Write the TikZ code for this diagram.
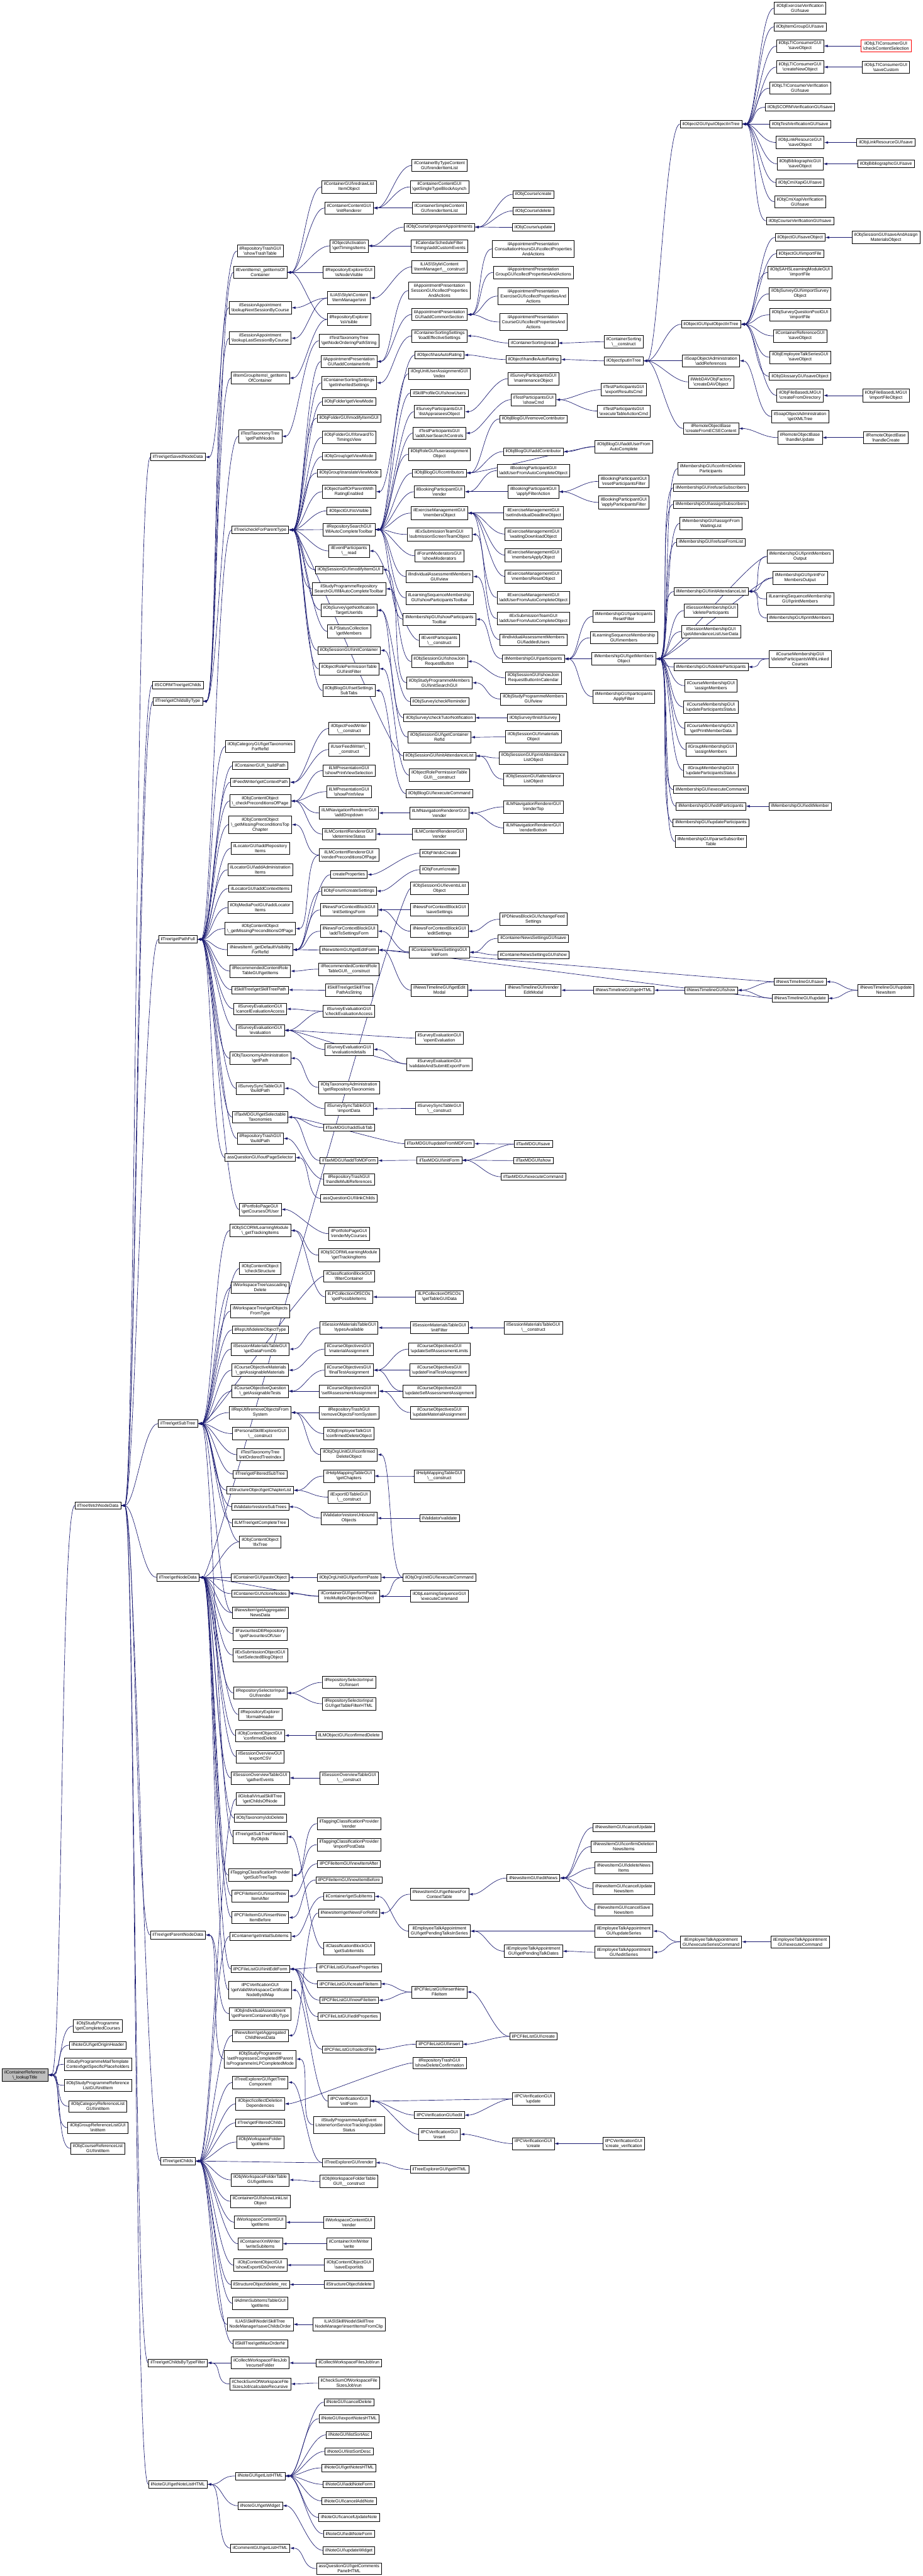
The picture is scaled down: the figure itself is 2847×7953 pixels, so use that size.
\documentclass[tikz,border=0pt]{standalone}
\usepackage{fontspec}
\newfontfamily\hv{Liberation Sans}
\usetikzlibrary{arrows.meta}
\def\bk{\textbackslash}
\definecolor{edgecol}{HTML}{191970}
\pgfdeclarelayer{background}
\pgfsetlayers{background,main}
\tikzset{
 nd/.style={draw=black, fill=white, line width=1.2pt, font=\hv\fontsize{13.5}{15.5}\selectfont, align=center, inner xsep=7pt, inner ysep=5.5pt},
 rootnd/.style={nd, fill=black!25},
 rednd/.style={nd, draw=red},
 e/.style={draw=edgecol, line width=1.3pt, -{Latex[length=12pt,width=8pt]},
   to path={.. controls +(-45,0) and +(45,0) .. (\tikztotarget)}},
}
\newcommand\NN[4]{\node[nd] (#1) at (#2,#3) {#4};}
\newcommand\EM[2]{\foreach \cn in {#2}{\draw[e] (\cn.west) to (#1.east);}}
\begin{document}
\begin{tikzpicture}[x=1pt,y=-1pt]
\useasboundingbox (0,0) rectangle (2847,7953);
% C0
\node[rootnd] (root) at (77,6406) {ilContainerReference\\\bk\_lookupTitle};
% C1
\NN{spgCompleted}{302}{6255}{ilObjStudyProgramme\\\bk getCompletedCourses}
\NN{noteOrigin}{302}{6314}{ilNoteGUI\bk getOriginHeader}
\NN{spgMail}{302}{6373}{ilStudyProgrammeMailTemplate\\Context\bk getSpecificPlaceholders}
\NN{spgRefList}{302}{6438}{ilObjStudyProgrammeReference\\ListGUI\bk initItem}
\NN{catRefList}{302}{6503}{ilObjCategoryReferenceList\\GUI\bk initItem}
\NN{grpRefList}{302}{6569}{ilObjGroupReferenceListGUI\\\bk initItem}
\NN{crsRefList}{302}{6633}{ilObjCourseReferenceList\\GUI\bk initItem}
\NN{fetchNode}{302}{4648}{ilTree\bk fetchNodeData}
% C2
\NN{savedNode}{549}{1411}{ilTree\bk getSavedNodeData}
\NN{scormChilds}{549}{2115}{ilSCORMTree\bk getChilds}
\NN{childsByType}{549}{2165}{ilTree\bk getChildsByType}
\NN{pathFull}{549}{2900}{ilTree\bk getPathFull}
\NN{subTree}{549}{4395}{ilTree\bk getSubTree}
\NN{nodeData}{549}{4870}{ilTree\bk getNodeData}
\NN{parentNode}{549}{5974}{ilTree\bk getParentNodeData}
\NN{childs}{549}{6672}{ilTree\bk getChilds}
\NN{childsFilter}{549}{7295}{ilTree\bk getChildsByTypeFilter}
\NN{noteList}{549}{7670}{ilNoteGUI\bk getNoteListHTML}
% C3
\NN{showTrash}{803}{775}{ilRepositoryTrashGUI\\\bk showTrashTable}
\NN{eventItems}{803}{841}{ilEventItems\bk\_getItemsOf\\Container}
\NN{sessNext}{803}{950}{ilSessionAppointment\\\bk lookupNextSessionByCourse}
\NN{sessLast}{803}{1044}{ilSessionAppointment\\\bk lookupLastSessionByCourse}
\NN{itemGroupItems}{803}{1167}{ilItemGroupItems\bk\_getItems\\OfContainer}
\NN{pathNodes}{803}{1347}{ilTestTaxonomyTree\\\bk getPathNodes}
\NN{checkParent}{803}{1636}{ilTree\bk checkForParentType}
\NN{catTax}{803}{2305}{ilObjCategoryGUI\bk getTaxonomies\\ForRefId}
\NN{buildPathC}{803}{2364}{ilContainerGUI\bk\_buildPath}
\NN{feedContext}{803}{2415}{ilFeedWriter\bk getContextPath}
\NN{checkPrecond}{803}{2473}{ilObjContentObject\\\bk\_checkPreconditionsOfPage}
\NN{missingTop}{803}{2546}{ilObjContentObject\\\bk\_getMissingPreconditionsTop\\Chapter}
\NN{locRepo}{803}{2619}{ilLocatorGUI\bk addRepository\\Items}
\NN{locAdmin}{803}{2685}{ilLocatorGUI\bk addAdministration\\Items}
\NN{locContext}{803}{2743}{ilLocatorGUI\bk addContextItems}
\NN{mepLocator}{803}{2802}{ilObjMediaPoolGUI\bk addLocator\\Items}
\NN{missingPage}{803}{2867}{ilObjContentObject\\\bk\_getMissingPreconditionsOfPage}
\NN{newsDefault}{803}{2932}{ilNewsItem\bk\_getDefaultVisibility\\ForRefId}
\NN{recRoleItems}{803}{2998}{ilRecommendedContentRole\\TableGUI\bk getItems}
\NN{skillTreePath}{803}{3056}{ilSkillTree\bk getSkillTreePath}
\NN{surveyCancel}{803}{3115}{ilSurveyEvaluationGUI\\\bk cancelEvaluationAccess}
\NN{surveyEval}{803}{3181}{ilSurveyEvaluationGUI\\\bk evaluation}
\NN{taxAdminPath}{803}{3267}{ilObjTaxonomyAdministration\\\bk getPath}
\NN{syncBuildPath}{803}{3360}{ilSurveySyncTableGUI\\\bk buildPath}
\NN{taxSelectable}{803}{3449}{ilTaxMDGUI\bk getSelectable\\Taxonomies}
\NN{trashBuildPath}{803}{3515}{ilRepositoryTrashGUI\\\bk buildPath}
\NN{outPageSel}{803}{3574}{assQuestionGUI\bk outPageSelector}
\NN{portfolioCourses}{803}{3734}{ilPortfolioPageGUI\\\bk getCoursesOfUser}
\NN{scormTracking}{803}{3799}{ilObjSCORMLearningModule\\\bk\_getTrackingItems}
\NN{checkStructure}{803}{3916}{ilObjContentObject\\\bk checkStructure}
\NN{wsCascade}{803}{3975}{ilWorkspaceTree\bk cascading\\Delete}
\NN{wsObjects}{803}{4048}{ilWorkspaceTree\bk getObjects\\FromType}
\NN{repUtilDelType}{803}{4106}{ilRepUtil\bk deleteObjectType}
\NN{sessMatDb}{803}{4165}{ilSessionMaterialsTableGUI\\\bk getDataFromDb}
\NN{crsObjMat}{803}{4230}{ilCourseObjectiveMaterials\\\bk\_getAssignableMaterials}
\NN{crsObjQst}{803}{4295}{ilCourseObjectiveQuestion\\\bk\_getAssignableTests}
\NN{repUtilRemove}{803}{4361}{ilRepUtil\bk removeObjectsFrom\\System}
\NN{persSkillExp}{803}{4426}{ilPersonalSkillExplorerGUI\\\bk\_\_construct}
\NN{testTaxIdx}{803}{4491}{ilTestTaxonomyTree\\\bk initOrderedTreeIndex}
\NN{filteredSub}{803}{4551}{ilTree\bk getFilteredSubTree}
\NN{chapterList}{803}{4601}{ilStructureObject\bk getChapterList}
\NN{restoreSub}{803}{4652}{ilValidator\bk restoreSubTrees}
\NN{lmComplete}{803}{4702}{ilLMTree\bk getCompleteTree}
\NN{fixTree}{803}{4760}{ilObjContentObject\\\bk fixTree}
\NN{pasteObj}{803}{4870}{ilContainerGUI\bk pasteObject}
\NN{cloneNodes}{803}{4920}{ilContainerGUI\bk cloneNodes}
\NN{aggNews}{803}{4979}{ilNewsItem\bk getAggregated\\NewsData}
\NN{favourites}{803}{5044}{ilFavouritesDBRepository\\\bk getFavouritesOfUser}
\NN{exSubBlog}{803}{5110}{ilExSubmissionObjectGUI\\\bk setSelectedBlogObject}
\NN{repoSelRender}{803}{5227}{ilRepositorySelectorInput\\GUI\bk render}
\NN{repoExpHeader}{803}{5293}{ilRepositoryExplorer\\\bk formatHeader}
\NN{coGUIConfDel}{803}{5358}{ilObjContentObjectGUI\\\bk confirmedDelete}
\NN{sessOverCSV}{803}{5423}{ilSessionOverviewGUI\\\bk exportCSV}
\NN{sessOverGather}{803}{5489}{ilSessionOverviewTableGUI\\\bk gatherEvents}
\NN{gvsChilds}{803}{5554}{ilGlobalVirtualSkillTree\\\bk getChildsOfNode}
\NN{taxDoDelete}{803}{5613}{ilObjTaxonomy\bk doDelete}
\NN{subTreeFiltered}{803}{5671}{ilTree\bk getSubTreeFiltered\\ByObjIds}
\NN{tagSubTree}{803}{5789}{ilTaggingClassificationProvider\\\bk getSubTreeTags}
\NN{pcInsAfter}{803}{5854}{ilPCFileItemGUI\bk insertNew\\ItemAfter}
\NN{pcInsBefore}{803}{5920}{ilPCFileItemGUI\bk insertNew\\ItemBefore}
\NN{initialSubitems}{803}{5978}{ilContainer\bk getInitialSubitems}
\NN{pcInitEdit}{803}{6079}{ilPCFileListGUI\bk initEditForm}
\NN{pcVerValid}{803}{6144}{ilPCVerificationGUI\\\bk getValidWorkspaceCertificate\\NodeByIdMap}
\NN{iaParent}{803}{6217}{ilObjIndividualAssessment\\\bk getParentContainerIdByType}
\NN{aggChild}{803}{6284}{ilNewsItem\bk getAggregated\\ChildNewsData}
\NN{spgSetProgress}{803}{6357}{ilObjStudyProgramme\\\bk setProgressesCompletedIfParent\\IsProgrammeInLPCompletedMode}
\NN{treeComp}{803}{6429}{ilTreeExplorerGUI\bk getTree\\Component}
\NN{collectDel}{803}{6495}{ilObject\bk collectDeletion\\Dependencies}
\NN{filteredChilds}{803}{6554}{ilTree\bk getFilteredChilds}
\NN{wsGotItems}{803}{6613}{ilObjWorkspaceFolder\\\bk gotItems}
\NN{wsFolderItems}{803}{6730}{ilObjWorkspaceFolderTable\\GUI\bk getItems}
\NN{showLinkList}{803}{6796}{ilContainerGUI\bk showLinkList\\Object}
\NN{wsContentItems}{803}{6861}{ilWorkspaceContentGUI\\\bk getItems}
\NN{xmlSubitems}{803}{6927}{ilContainerXmlWriter\\\bk writeSubitems}
\NN{coShowExport}{803}{6993}{ilObjContentObjectGUI\\\bk showExportIDsOverview}
\NN{structDelRec}{803}{7053}{ilStructureObject\bk delete\_rec}
\NN{adminSubItems}{803}{7111}{ilAdminSubItemsTableGUI\\\bk getItems}
\NN{skillSaveOrder}{803}{7176}{ILIAS\bk Skill\bk Node\bk SkillTree\\NodeManager\bk saveChildsOrder}
\NN{skillMaxOrder}{803}{7236}{ilSkillTree\bk getMaxOrderNr}
\NN{collectRecurse}{803}{7295}{ilCollectWorkspaceFilesJob\\\bk recurseFolder}
\NN{checksumCalc}{803}{7360}{ilCheckSumOfWorkspaceFile\\SizesJob\bk calculateRecursive}
\NN{noteGetList}{803}{7644}{ilNoteGUI\bk getListHTML}
\NN{noteWidget}{803}{7736}{ilNoteGUI\bk getWidget}
\NN{commentList}{803}{7867}{ilCommentGUI\bk getListHTML}
% C4
\NN{redrawList}{1077}{577}{ilContainerGUI\bk redrawList\\ItemObject}
\NN{initRenderer}{1077}{642}{ilContainerContentGUI\\\bk initRenderer}
\NN{timingsItems}{1077}{759}{ilObjectActivation\\\bk getTimingsItems}
\NN{repExpNodeVis}{1077}{841}{ilRepositoryExplorerGUI\\\bk isNodeVisible}
\NN{itemMgrInit}{1077}{920}{ILIAS\bk Style\bk Content\\\bk ItemManager\bk init}
\NN{repExpVisible}{1077}{986}{ilRepositoryExplorer\\\bk isVisible}
\NN{nodeOrdering}{1077}{1052}{ilTestTaxonomyTree\\\bk getNodeOrderingPathString}
\NN{addContainerInfo}{1077}{1116}{ilAppointmentPresentation\\GUI\bk addContainerInfo}
\NN{inheritedSettings}{1077}{1182}{ilContainerSortingSettings\\\bk getInheritedSettings}
\NN{folderViewMode}{1077}{1240}{ilObjFolder\bk getViewMode}
\NN{folderModify}{1077}{1291}{ilObjFolderGUI\bk modifyItemGUI}
\NN{forwardTimings}{1077}{1350}{ilObjFolderGUI\bk forwardTo\\TimingsView}
\NN{grpViewMode}{1077}{1409}{ilObjGroup\bk getViewMode}
\NN{grpTranslate}{1077}{1460}{ilObjGroup\bk translateViewMode}
\NN{selfOrParent}{1077}{1518}{ilObject\bk selfOrParentWith\\RatingEnabled}
\NN{objGUIVisible}{1077}{1577}{ilObjectGUI\bk isVisible}
\NN{repoSearchFill}{1077}{1635}{ilRepositorySearchGUI\\\bk fillAutoCompleteToolbar}
\NN{evPartRead}{1077}{1701}{ilEventParticipants\\\bk\_\_read}
\NN{sessModify}{1077}{1759}{ilObjSessionGUI\bk modifyItemGUI}
\NN{spgRepoSearch}{1077}{1818}{ilStudyProgrammeRepository\\SearchGUI\bk fillAutoCompleteToolbar}
\NN{surveyNotif}{1077}{1884}{ilObjSurvey\bk getNotification\\TargetUserIds}
\NN{lpMembers}{1077}{1949}{ilLPStatusCollection\\\bk getMembers}
\NN{sessInitCont}{1077}{2008}{ilObjSessionGUI\bk initContainer}
\NN{rolePermFilter}{1077}{2065}{ilObjectRolePermissionTable\\GUI\bk initFilter}
\NN{blogSubTabs}{1077}{2132}{ilObjBlogGUI\bk setSettings\\SubTabs}
\NN{feedWriterCons}{1077}{2249}{ilObjectFeedWriter\\\bk\_\_construct}
\NN{userFeedWriter}{1077}{2314}{ilUserFeedWriter\bk\_\\\_construct}
\NN{lmPrintSel}{1077}{2379}{ilLMPresentationGUI\\\bk showPrintViewSelection}
\NN{lmPrintView}{1077}{2444}{ilLMPresentationGUI\\\bk showPrintView}
\NN{lmNavDropdown}{1077}{2510}{ilLMNavigationRendererGUI\\\bk addDropdown}
\NN{lmDetermine}{1077}{2575}{ilLMContentRendererGUI\\\bk determineStatus}
\NN{lmRenderPrecond}{1077}{2640}{ilLMContentRendererGUI\\\bk renderPreconditionsOfPage}
\NN{createProps}{1077}{2700}{createProperties}
\NN{createSettings}{1077}{2751}{ilObjForum\bk createSettings}
\NN{newsInitSettings}{1077}{2809}{ilNewsForContextBlockGUI\\\bk initSettingsForm}
\NN{newsAddSettings}{1077}{2875}{ilNewsForContextBlockGUI\\\bk addToSettingsForm}
\NN{newsEditForm}{1077}{2933}{ilNewsItemGUI\bk getEditForm}
\NN{recRoleCons}{1077}{2992}{ilRecommendedContentRole\\TableGUI\bk\_\_construct}
\NN{skillPathStr}{1077}{3057}{ilSkillTree\bk getSkillTree\\PathAsString}
\NN{surveyCheck}{1077}{3122}{ilSurveyEvaluationGUI\\\bk checkEvaluationAccess}
\NN{surveyDetails}{1077}{3240}{ilSurveyEvaluationGUI\\\bk evaluationdetails}
\NN{taxAdminRepo}{1077}{3357}{ilObjTaxonomyAdministration\\\bk getRepositoryTaxonomies}
\NN{syncImport}{1077}{3423}{ilSurveySyncTableGUI\\\bk importData}
\NN{taxAddSubTab}{1077}{3481}{ilTaxMDGUI\bk addSubTab}
\NN{taxAddToMD}{1077}{3583}{ilTaxMDGUI\bk addToMDForm}
\NN{trashMulti}{1077}{3641}{ilRepositoryTrashGUI\\\bk handleMultiReferences}
\NN{linkChilds}{1077}{3700}{assQuestionGUI\bk linkChilds}
\NN{portfolioRender}{1077}{3809}{ilPortfolioPageGUI\\\bk renderMyCourses}
\NN{scormGetTracking}{1077}{3875}{ilObjSCORMLearningModule\\\bk getTrackingItems}
\NN{classFilter}{1077}{3940}{ilClassificationBlockGUI\\\bk filterContainer}
\NN{lpCollPossible}{1077}{4004}{ilLPCollectionOfSCOs\\\bk getPossibleItems}
\NN{sessMatTypes}{1077}{4099}{ilSessionMaterialsTableGUI\\\bk typesAvailable}
\NN{crsObjMatAssign}{1077}{4165}{ilCourseObjectivesGUI\\\bk materialAssignment}
\NN{crsObjFinal}{1077}{4230}{ilCourseObjectivesGUI\\\bk finalTestAssignment}
\NN{crsObjSelf}{1077}{4295}{ilCourseObjectivesGUI\\\bk selfAssessmentAssignment}
\NN{trashRemove}{1077}{4361}{ilRepositoryTrashGUI\\\bk removeObjectsFromSystem}
\NN{empTalkDel}{1077}{4426}{ilObjEmployeeTalkGUI\\\bk confirmedDeleteObject}
\NN{orgUnitConfDel}{1077}{4491}{ilObjOrgUnitGUI\bk confirmed\\DeleteObject}
\NN{helpChapters}{1077}{4557}{ilHelpMappingTableGUI\\\bk getChapters}
\NN{exportIDTable}{1077}{4622}{ilExportIDTableGUI\\\bk\_\_construct}
\NN{restoreUnbound}{1077}{4687}{ilValidator\bk restoreUnbound\\Objects}
\NN{orgUnitPaste}{1077}{4870}{ilObjOrgUnitGUI\bk performPaste}
\NN{performPaste}{1077}{4928}{ilContainerGUI\bk performPaste\\IntoMultipleObjectsObject}
\NN{repoSelInsert}{1077}{5194}{ilRepositorySelectorInput\\GUI\bk insert}
\NN{repoSelFilter}{1077}{5260}{ilRepositorySelectorInput\\GUI\bk getTableFilterHTML}
\NN{lmObjConfDel}{1077}{5358}{ilLMObjectGUI\bk confirmedDelete}
\NN{sessOverCons}{1077}{5489}{ilSessionOverviewTableGUI\\\bk\_\_construct}
\NN{tagRender}{1077}{5630}{ilTaggingClassificationProvider\\\bk render}
\NN{tagImport}{1077}{5695}{ilTaggingClassificationProvider\\\bk importPostData}
\NN{pcNewAfter}{1077}{5754}{ilPCFileItemGUI\bk newItemAfter}
\NN{pcNewBefore}{1077}{5804}{ilPCFileItemGUI\bk newItemBefore}
\NN{contSubItems}{1077}{5855}{ilContainer\bk getSubItems}
\NN{newsForRef}{1077}{5906}{ilNewsItem\bk getNewsForRefId}
\NN{classSubItems}{1077}{6016}{ilClassificationBlockGUI\\\bk getSubItemIds}
\NN{pcSaveProps}{1077}{6075}{ilPCFileListGUI\bk saveProperties}
\NN{pcCreateFile}{1077}{6125}{ilPCFileListGUI\bk createFileItem}
\NN{pcNewFile}{1077}{6175}{ilPCFileListGUI\bk newFileItem}
\NN{pcEditProps}{1077}{6226}{ilPCFileListGUI\bk editProperties}
\NN{pcSelectFile}{1077}{6327}{ilPCFileListGUI\bk selectFile}
\NN{pcVerInit}{1077}{6487}{ilPCVerificationGUI\\\bk initForm}
\NN{spgAppEvent}{1077}{6560}{ilStudyProgrammeAppEvent\\Listener\bk onServiceTrackingUpdate\\Status}
\NN{treeRender}{1077}{6677}{ilTreeExplorerGUI\bk render}
\NN{wsFolderCons}{1077}{6735}{ilObjWorkspaceFolderTable\\GUI\bk\_\_construct}
\NN{wsContentRender}{1077}{6861}{ilWorkspaceContentGUI\\\bk render}
\NN{xmlWrite}{1077}{6927}{ilContainerXmlWriter\\\bk write}
\NN{coSaveExport}{1077}{6993}{ilObjContentObjectGUI\\\bk saveExportIds}
\NN{structDelete}{1077}{7053}{ilStructureObject\bk delete}
\NN{skillInsertClip}{1077}{7176}{ILIAS\bk Skill\bk Node\bk SkillTree\\NodeManager\bk insertItemsFromClip}
\NN{collectRun}{1077}{7295}{ilCollectWorkspaceFilesJob\bk run}
\NN{checksumRun}{1077}{7357}{ilCheckSumOfWorkspaceFile\\SizesJob\bk run}
\NN{noteCancelDel}{1077}{7416}{ilNoteGUI\bk cancelDelete}
\NN{noteExport}{1077}{7467}{ilNoteGUI\bk exportNotesHTML}
\NN{noteSortAsc}{1077}{7517}{ilNoteGUI\bk listSortAsc}
\NN{noteSortDesc}{1077}{7568}{ilNoteGUI\bk listSortDesc}
\NN{noteGetNotes}{1077}{7619}{ilNoteGUI\bk getNotesHTML}
\NN{noteAddForm}{1077}{7670}{ilNoteGUI\bk addNoteForm}
\NN{noteCancelAdd}{1077}{7721}{ilNoteGUI\bk cancelAddNote}
\NN{noteCancelUpd}{1077}{7772}{ilNoteGUI\bk cancelUpdateNote}
\NN{noteEditForm}{1077}{7823}{ilNoteGUI\bk editNoteForm}
\NN{noteUpdWidget}{1077}{7874}{ilNoteGUI\bk updateWidget}
\NN{assQComments}{1077}{7930}{assQuestionGUI\bk getComments\\PanelHTML}
% C5
\NN{byTypeRender}{1356}{511}{ilContainerByTypeContent\\GUI\bk renderItemList}
\NN{singleType}{1356}{577}{ilContainerContentGUI\\\bk getSingleTypeBlockAsynch}
\NN{simpleRender}{1356}{642}{ilContainerSimpleContent\\GUI\bk renderItemList}
\NN{crsPrepare}{1356}{701}{ilObjCourse\bk prepareAppointments}
\NN{calFilter}{1356}{759}{ilCalendarScheduleFilter\\Timings\bk addCustomEvents}
\NN{itemMgrCons}{1356}{824}{ILIAS\bk Style\bk Content\\\bk ItemManager\bk\_\_construct}
\NN{sessCollect}{1356}{897}{ilAppointmentPresentation\\SessionGUI\bk collectProperties\\AndActions}
\NN{addCommon}{1356}{971}{ilAppointmentPresentation\\GUI\bk addCommonSection}
\NN{loadEff}{1356}{1037}{ilContainerSortingSettings\\\bk loadEffectiveSettings}
\NN{hasAutoRating}{1356}{1096}{ilObject\bk hasAutoRating}
\NN{orgUnitIndex}{1356}{1154}{ilOrgUnitUserAssignmentGUI\\\bk index}
\NN{skillProfUsers}{1356}{1213}{ilSkillProfileGUI\bk showUsers}
\NN{surveyAppraisees}{1356}{1271}{ilSurveyParticipantsGUI\\\bk listAppraiseesObject}
\NN{testAddSearch}{1356}{1337}{ilTestParticipantsGUI\\\bk addUserSearchControls}
\NN{roleUserAssign}{1356}{1402}{ilObjRoleGUI\bk userassignment\\Object}
\NN{blogContrib}{1356}{1460}{ilObjBlogGUI\bk contributors}
\NN{bookingRender}{1356}{1518}{ilBookingParticipantGUI\\\bk render}
\NN{exMembers}{1356}{1584}{ilExerciseManagementGUI\\\bk membersObject}
\NN{exSubTeam}{1356}{1650}{ilExSubmissionTeamGUI\\\bk submissionScreenTeamObject}
\NN{forumMods}{1356}{1716}{ilForumModeratorsGUI\\\bk showModerators}
\NN{iaView}{1356}{1780}{ilIndividualAssessmentMembers\\GUI\bk view}
\NN{lsoShowPart}{1356}{1846}{ilLearningSequenceMembership\\GUI\bk showParticipantsToolbar}
\NN{memShowPart}{1356}{1912}{ilMembershipGUI\bk showParticipants\\Toolbar}
\NN{evPartCons}{1356}{1977}{ilEventParticipants\\\bk\_\_construct}
\NN{sessShowJoin}{1356}{2042}{ilObjSessionGUI\bk showJoin\\RequestButton}
\NN{spgMembersInit}{1356}{2108}{ilObjStudyProgrammeMembers\\GUI\bk initSearchGUI}
\NN{surveyReminder}{1356}{2166}{ilObjSurvey\bk checkReminder}
\NN{surveyTutor}{1356}{2216}{ilObjSurvey\bk checkTutorNotification}
\NN{sessGetCont}{1356}{2276}{ilObjSessionGUI\bk getContainer\\RefId}
\NN{sessInitAtt}{1356}{2334}{ilObjSessionGUI\bk initAttendanceList}
\NN{rolePermCons}{1356}{2393}{ilObjectRolePermissionTable\\GUI\bk\_\_construct}
\NN{blogExec}{1356}{2450}{ilObjBlogGUI\bk executeCommand}
\NN{lmNavRender}{1356}{2510}{ilLMNavigationRendererGUI\\\bk render}
\NN{lmContRender}{1356}{2575}{ilLMContentRendererGUI\\\bk render}
\NN{fileDoCreate}{1356}{2634}{ilObjFile\bk doCreate}
\NN{forumCreate}{1356}{2685}{ilObjForum\bk create}
\NN{sessEventsList}{1356}{2743}{ilObjSessionGUI\bk eventsList\\Object}
\NN{newsSaveSettings}{1356}{2809}{ilNewsForContextBlockGUI\\\bk saveSettings}
\NN{newsEditSettings}{1356}{2875}{ilNewsForContextBlockGUI\\\bk editSettings}
\NN{contNewsInit}{1356}{2940}{ilContainerNewsSettingsGUI\\\bk initForm}
\NN{newsTLEditModal}{1356}{3057}{ilNewsTimelineGUI\bk getEdit\\Modal}
\NN{surveyOpen}{1356}{3205}{ilSurveyEvaluationGUI\\\bk openEvaluation}
\NN{surveyValidate}{1356}{3285}{ilSurveyEvaluationGUI\\\bk validateAndSubmitExportForm}
\NN{syncCons}{1356}{3422}{ilSurveySyncTableGUI\\\bk\_\_construct}
\NN{taxUpdFromMD}{1356}{3531}{ilTaxMDGUI\bk updateFromMDForm}
\NN{taxInitForm}{1356}{3582}{ilTaxMDGUI\bk initForm}
\NN{lpCollTable}{1356}{4004}{ilLPCollectionOfSCOs\\\bk getTableGUIData}
\NN{sessMatInit}{1356}{4099}{ilSessionMaterialsTableGUI\\\bk initFilter}
\NN{crsUpdSelfLim}{1356}{4165}{ilCourseObjectivesGUI\\\bk updateSelfAssessmentLimits}
\NN{crsUpdFinal}{1356}{4230}{ilCourseObjectivesGUI\\\bk updateFinalTestAssignment}
\NN{crsUpdSelf}{1356}{4295}{ilCourseObjectivesGUI\\\bk updateSelfAssessmentAssignment}
\NN{crsUpdMat}{1356}{4361}{ilCourseObjectivesGUI\\\bk updateMaterialAssignment}
\NN{helpCons}{1356}{4557}{ilHelpMappingTableGUI\\\bk\_\_construct}
\NN{validate}{1356}{4687}{ilValidator\bk validate}
\NN{orgUnitExec}{1356}{4870}{ilObjOrgUnitGUI\bk executeCommand}
\NN{lsoExec}{1356}{4928}{ilObjLearningSequenceGUI\\\bk executeCommand}
\NN{newsGetTable}{1356}{5848}{ilNewsItemGUI\bk getNewsFor\\ContextTable}
\NN{empPendingSeries}{1356}{5962}{ilEmployeeTalkAppointment\\GUI\bk getPendingTalksInSeries}
\NN{pcInsertNew}{1356}{6150}{ilPCFileListGUI\bk insertNew\\FileItem}
\NN{pcInsert}{1356}{6311}{ilPCFileListGUI\bk insert}
\NN{trashShowDel}{1356}{6369}{ilRepositoryTrashGUI\\\bk showDeleteConfirmation}
\NN{pcVerEdit}{1356}{6530}{ilPCVerificationGUI\bk edit}
\NN{pcVerInsert}{1356}{6589}{ilPCVerificationGUI\\\bk insert}
\NN{treeGetHTML}{1356}{6698}{ilTreeExplorerGUI\bk getHTML}
% C6
\NN{crsCreate}{1646}{600}{ilObjCourse\bk create}
\NN{crsDelete}{1646}{651}{ilObjCourse\bk delete}
\NN{crsUpdate}{1646}{702}{ilObjCourse\bk update}
\NN{consultCollect}{1646}{768}{ilAppointmentPresentation\\ConsultationHoursGUI\bk collectProperties\\AndActions}
\NN{grpCollect}{1646}{841}{ilAppointmentPresentation\\GroupGUI\bk collectPropertiesAndActions}
\NN{exCollect}{1646}{914}{ilAppointmentPresentation\\ExerciseGUI\bk collectPropertiesAnd\\Actions}
\NN{crsCollect}{1646}{994}{ilAppointmentPresentation\\CourseGUI\bk collectPropertiesAnd\\Actions}
\NN{sortRead}{1646}{1059}{ilContainerSorting\bk read}
\NN{handleAutoRating}{1646}{1110}{ilObject\bk handleAutoRating}
\NN{surveyMaint}{1646}{1169}{ilSurveyParticipantsGUI\\\bk maintenanceObject}
\NN{testShowCmd}{1646}{1234}{ilTestParticipantsGUI\\\bk showCmd}
\NN{blogRemove}{1646}{1293}{ilObjBlogGUI\bk removeContributor}
\NN{blogAddContrib}{1646}{1394}{ilObjBlogGUI\bk addContributor}
\NN{bookingAddUser}{1646}{1453}{ilBookingParticipantGUI\\\bk addUserFromAutoCompleteObject}
\NN{bookingApply}{1646}{1518}{ilBookingParticipantGUI\\\bk applyFilterAction}
\NN{exSetDeadline}{1646}{1584}{ilExerciseManagementGUI\\\bk setIndividualDeadlineObject}
\NN{exWaiting}{1646}{1649}{ilExerciseManagementGUI\\\bk waitingDownloadObject}
\NN{exApply}{1646}{1714}{ilExerciseManagementGUI\\\bk membersApplyObject}
\NN{exReset}{1646}{1780}{ilExerciseManagementGUI\\\bk membersResetObject}
\NN{exAddUser}{1646}{1845}{ilExerciseManagementGUI\\\bk addUserFromAutoCompleteObject}
\NN{exSubTeamAdd}{1646}{1910}{ilExSubmissionTeamGUI\\\bk addUserFromAutoCompleteObject}
\NN{iaAdded}{1646}{1975}{ilIndividualAssessmentMembers\\GUI\bk addedUsers}
\NN{memPart}{1646}{2034}{ilMembershipGUI\bk participants}
\NN{sessShowJoinCal}{1646}{2093}{ilObjSessionGUI\bk showJoin\\RequestButtonInCalendar}
\NN{spgMembersView}{1646}{2158}{ilObjStudyProgrammeMembers\\GUI\bk view}
\NN{surveyFinish}{1646}{2216}{ilObjSurvey\bk finishSurvey}
\NN{sessMaterials}{1646}{2275}{ilObjSessionGUI\bk materials\\Object}
\NN{sessPrintAtt}{1646}{2340}{ilObjSessionGUI\bk printAttendance\\ListObject}
\NN{sessAttList}{1646}{2406}{ilObjSessionGUI\bk attendance\\ListObject}
\NN{lmNavTop}{1646}{2491}{ilLMNavigationRendererGUI\\\bk renderTop}
\NN{lmNavBottom}{1646}{2556}{ilLMNavigationRendererGUI\\\bk renderBottom}
\NN{pdChangeFeed}{1646}{2838}{ilPDNewsBlockGUI\bk changeFeed\\Settings}
\NN{contNewsSave}{1646}{2897}{ilContainerNewsSettingsGUI\bk save}
\NN{contNewsShow}{1646}{2948}{ilContainerNewsSettingsGUI\bk show}
\NN{newsTLRenderEdit}{1646}{3057}{ilNewsTimelineGUI\bk render\\EditModal}
\NN{taxSave}{1646}{3532}{ilTaxMDGUI\bk save}
\NN{taxShow}{1646}{3583}{ilTaxMDGUI\bk show}
\NN{taxExec}{1646}{3633}{ilTaxMDGUI\bk executeCommand}
\NN{sessMatCons}{1646}{4099}{ilSessionMaterialsTableGUI\\\bk\_\_construct}
\NN{newsEditNews}{1646}{5798}{ilNewsItemGUI\bk editNews}
\NN{empPendingDates}{1646}{6024}{ilEmployeeTalkAppointment\\GUI\bk getPendingTalkDates}
\NN{pcCreate}{1646}{6287}{ilPCFileListGUI\bk create}
\NN{pcVerUpdate}{1646}{6480}{ilPCVerificationGUI\\\bk update}
\NN{pcVerCreate}{1646}{6618}{ilPCVerificationGUI\\\bk create}
% C7
\NN{sortCons}{1925}{1055}{ilContainerSorting\\\bk\_\_construct}
\NN{putInTree}{1925}{1114}{ilObject\bk putInTree}
\NN{testExport}{1925}{1203}{ilTestParticipantsGUI\\\bk exportResultsCmd}
\NN{testExecTable}{1925}{1269}{ilTestParticipantsGUI\\\bk executeTableActionCmd}
\NN{blogAddUserAuto}{1925}{1379}{ilObjBlogGUI\bk addUserFrom\\AutoComplete}
\NN{bookingReset}{1925}{1486}{ilBookingParticipantGUI\\\bk resetParticipantsFilter}
\NN{bookingApplyPart}{1925}{1551}{ilBookingParticipantGUI\\\bk applyParticipantsFilter}
\NN{memPartReset}{1925}{1903}{ilMembershipGUI\bk participants\\ResetFilter}
\NN{lsoMembers}{1925}{1969}{ilLearningSequenceMembership\\GUI\bk members}
\NN{memGetMembers}{1925}{2034}{ilMembershipGUI\bk getMembers\\Object}
\NN{memPartApply}{1925}{2151}{ilMembershipGUI\bk participants\\ApplyFilter}
\NN{newsTLGetHTML}{1925}{3057}{ilNewsTimelineGUI\bk getHTML}
\NN{newsCancelUpd}{1925}{5642}{ilNewsItemGUI\bk cancelUpdate}
\NN{newsConfirmDel}{1925}{5701}{ilNewsItemGUI\bk confirmDeletion\\NewsItems}
\NN{newsDeleteItems}{1925}{5766}{ilNewsItemGUI\bk deleteNews\\Items}
\NN{newsCancelUpdItem}{1925}{5831}{ilNewsItemGUI\bk cancelUpdate\\NewsItem}
\NN{newsCancelSave}{1925}{5897}{ilNewsItemGUI\bk cancelSave\\NewsItem}
\NN{empUpdSeries}{1925}{5962}{ilEmployeeTalkAppointment\\GUI\bk updateSeries}
\NN{empEditSeries}{1925}{6027}{ilEmployeeTalkAppointment\\GUI\bk editSeries}
\NN{pcVerCreateVer}{1925}{6618}{ilPCVerificationGUI\\\bk create\_verification}
% C8
\NN{obj2PutTree}{2194}{383}{ilObject2GUI\bk putObjectInTree}
\NN{objGUIPutTree}{2194}{1001}{ilObjectGUI\bk putObjectInTree}
\NN{soapAddRef}{2194}{1114}{ilSoapObjectAdministration\\\bk addReferences}
\NN{webdav}{2194}{1179}{ilWebDAVObjFactory\\\bk createDAVObject}
\NN{remoteCreate}{2194}{1323}{ilRemoteObjectBase\\\bk createFromECSEContent}
\NN{memConfirmDel}{2194}{1447}{ilMembershipGUI\bk confirmDelete\\Participants}
\NN{memRefuseSubs}{2194}{1506}{ilMembershipGUI\bk refuseSubscribers}
\NN{memAssignSubs}{2194}{1557}{ilMembershipGUI\bk assignSubscribers}
\NN{memAssignWait}{2194}{1616}{ilMembershipGUI\bk assignFrom\\WaitingList}
\NN{memRefuseList}{2194}{1674}{ilMembershipGUI\bk refuseFromList}
\NN{memInitAtt}{2194}{1826}{ilMembershipGUI\bk initAttendanceList}
\NN{sessMemDel}{2194}{1885}{ilSessionMembershipGUI\\\bk deleteParticipants}
\NN{sessMemAtt}{2194}{1950}{ilSessionMembershipGUI\\\bk getAttendanceListUserData}
\NN{memDelete}{2194}{2059}{ilMembershipGUI\bk deleteParticipants}
\NN{crsMemAssign}{2194}{2117}{ilCourseMembershipGUI\\\bk assignMembers}
\NN{crsMemUpd}{2194}{2183}{ilCourseMembershipGUI\\\bk updateParticipantsStatus}
\NN{crsMemPrint}{2194}{2249}{ilCourseMembershipGUI\\\bk getPrintMemberData}
\NN{grpMemAssign}{2194}{2314}{ilGroupMembershipGUI\\\bk assignMembers}
\NN{grpMemUpd}{2194}{2379}{ilGroupMembershipGUI\\\bk updateParticipantsStatus}
\NN{memExec}{2194}{2438}{ilMembershipGUI\bk executeCommand}
\NN{memEditPart}{2194}{2489}{ilMembershipGUI\bk editParticipants}
\NN{memUpdPart}{2194}{2540}{ilMembershipGUI\bk updateParticipants}
\NN{memParseSub}{2194}{2598}{ilMembershipGUI\bk parseSubscriber\\Table}
\NN{newsTLShow}{2194}{3057}{ilNewsTimelineGUI\bk show}
\NN{empExecSeries}{2194}{5995}{ilEmployeeTalkAppointment\\GUI\bk executeSeriesCommand}
% C9
\NN{exVerSave}{2469}{25}{ilObjExerciseVerification\\GUI\bk save}
\NN{itemGroupSave}{2469}{83}{ilObjItemGroupGUI\bk save}
\NN{ltiSaveObj}{2469}{142}{ilObjLTIConsumerGUI\\\bk saveObject}
\NN{ltiCreateNew}{2469}{207}{ilObjLTIConsumerGUI\\\bk createNewObject}
\NN{ltiVerSave}{2469}{272}{ilObjLTIConsumerVerification\\GUI\bk save}
\NN{scormVerSave}{2469}{331}{ilObjSCORMVerificationGUI\bk save}
\NN{testVerSave}{2469}{383}{ilObjTestVerificationGUI\bk save}
\NN{webResSaveObj}{2469}{440}{ilObjLinkResourceGUI\\\bk saveObject}
\NN{biblSaveObj}{2469}{506}{ilObjBibliographicGUI\\\bk saveObject}
\NN{cmiSave}{2469}{564}{ilObjCmiXapiGUI\bk save}
\NN{cmiVerSave}{2469}{623}{ilObjCmiXapiVerification\\GUI\bk save}
\NN{crsVerSave}{2469}{682}{ilObjCourseVerificationGUI\bk save}
\NN{objGUISaveObj}{2469}{733}{ilObjectGUI\bk saveObject}
\NN{objGUIImport}{2469}{783}{ilObjectGUI\bk importFile}
\NN{sahsImport}{2469}{841}{ilObjSAHSLearningModuleGUI\\\bk importFile}
\NN{surveyImport}{2469}{907}{ilObjSurveyGUI\bk importSurvey\\Object}
\NN{sqpImport}{2469}{972}{ilObjSurveyQuestionPoolGUI\\\bk importFile}
\NN{contRefSave}{2469}{1037}{ilContainerReferenceGUI\\\bk saveObject}
\NN{empTalkSeriesSave}{2469}{1103}{ilObjEmployeeTalkSeriesGUI\\\bk saveObject}
\NN{glossarySave}{2469}{1162}{ilObjGlossaryGUI\bk saveObject}
\NN{fblmCreate}{2469}{1221}{ilObjFileBasedLMGUI\\\bk createFromDirectory}
\NN{soapXML}{2469}{1286}{ilSoapObjectAdministration\\\bk getXMLTree}
\NN{remoteHandleUpd}{2469}{1351}{ilRemoteObjectBase\\\bk handleUpdate}
\NN{memPrintOutput}{2469}{1718}{ilMembershipGUI\bk printMembers\\Output}
\NN{memPrintFor}{2469}{1784}{ilMembershipGUI\bk printFor\\MembersOutput}
\NN{lsoPrintMembers}{2469}{1849}{ilLearningSequenceMembership\\GUI\bk printMembers}
\NN{memPrintMembers}{2469}{1908}{ilMembershipGUI\bk printMembers}
\NN{crsMemDelLinked}{2469}{2034}{ilCourseMembershipGUI\\\bk deleteParticipantsWithLinked\\Courses}
\NN{memEditMember}{2469}{2489}{ilMembershipGUI\bk editMember}
\NN{newsTLSave}{2469}{3031}{ilNewsTimelineGUI\bk save}
\NN{newsTLUpdate}{2469}{3082}{ilNewsTimelineGUI\bk update}
\NN{empExec}{2469}{5995}{ilEmployeeTalkAppointment\\GUI\bk executeCommand}
% C10
\node[rednd] (ltiCheckContent) at (2734,142) {ilObjLTIConsumerGUI\\\bk checkContentSelection};
\NN{ltiSaveCustom}{2734}{207}{ilObjLTIConsumerGUI\\\bk saveCustom}
\NN{webResSave}{2734}{440}{ilObjLinkResourceGUI\bk save}
\NN{biblSave}{2734}{506}{ilObjBibliographicGUI\bk save}
\NN{sessSaveAssign}{2734}{733}{ilObjSessionGUI\bk saveAndAssign\\MaterialsObject}
\NN{fblmImport}{2734}{1221}{ilObjFileBasedLMGUI\\\bk importFileObject}
\NN{remoteHandleCreate}{2734}{1351}{ilRemoteObjectBase\\\bk handleCreate}
\NN{newsTLUpdNewsItem}{2734}{3057}{ilNewsTimelineGUI\bk update\\NewsItem}

\begin{pgfonlayer}{background}
\EM{root}{fetchNode,spgCompleted,noteOrigin,spgMail,spgRefList,catRefList,grpRefList,crsRefList}
\EM{fetchNode}{savedNode,scormChilds,childsByType,pathFull,subTree,nodeData,parentNode,childs,childsFilter,noteList}
\EM{savedNode}{showTrash}
\EM{childsByType}{eventItems,sessNext,sessLast,itemGroupItems,pathNodes}
\EM{pathFull}{checkParent,catTax,buildPathC,feedContext,checkPrecond,missingTop,locRepo,locAdmin,locContext,mepLocator,missingPage,newsDefault,recRoleItems,skillTreePath,surveyCancel,surveyEval,taxAdminPath,syncBuildPath,taxSelectable,trashBuildPath,outPageSel,portfolioCourses}
\EM{subTree}{scormTracking,checkStructure,wsCascade,wsObjects,repUtilDelType,sessMatDb,crsObjMat,crsObjQst,repUtilRemove,persSkillExp,testTaxIdx,filteredSub,chapterList,restoreSub,lmComplete,fixTree,aggNews,subTreeFiltered,classFilter}
\EM{nodeData}{fixTree,pasteObj,cloneNodes,aggNews,favourites,exSubBlog,repoSelRender,repoExpHeader,coGUIConfDel,sessOverCSV,sessOverGather,taxDoDelete,tagSubTree,pcInsAfter,pcInsBefore,pcInitEdit,pcVerValid,performPaste,sessEventsList}
\EM{parentNode}{iaParent,spgSetProgress}
\EM{childs}{gvsChilds,initialSubitems,aggChild,treeComp,collectDel,filteredChilds,wsGotItems,wsFolderItems,showLinkList,wsContentItems,xmlSubitems,coShowExport,structDelRec,adminSubItems,skillSaveOrder,skillMaxOrder,treeRender}
\EM{childsFilter}{collectRecurse,checksumCalc}
\EM{noteList}{noteGetList,noteWidget,commentList}
\EM{eventItems}{redrawList,initRenderer,timingsItems,repExpNodeVis,repExpVisible}
\EM{sessNext}{itemMgrInit}
\EM{sessLast}{itemMgrInit}
\EM{itemGroupItems}{repExpVisible}
\EM{pathNodes}{nodeOrdering}
\EM{checkParent}{addContainerInfo,inheritedSettings,folderViewMode,folderModify,forwardTimings,grpViewMode,grpTranslate,selfOrParent,objGUIVisible,repoSearchFill,evPartRead,sessModify,spgRepoSearch,surveyNotif,lpMembers,sessInitCont,rolePermFilter,blogSubTabs,sessInitAtt}
\EM{feedContext}{feedWriterCons,userFeedWriter}
\EM{checkPrecond}{lmPrintSel,lmPrintView,lmNavDropdown,lmDetermine}
\EM{missingTop}{lmRenderPrecond}
\EM{missingPage}{lmRenderPrecond}
\EM{newsDefault}{createProps,createSettings,newsInitSettings,newsAddSettings,newsEditForm}
\EM{recRoleItems}{recRoleCons}
\EM{skillTreePath}{skillPathStr}
\EM{surveyCancel}{surveyCheck}
\EM{surveyEval}{surveyCheck,surveyDetails,surveyOpen,surveyValidate}
\EM{taxAdminPath}{taxAdminRepo}
\EM{syncBuildPath}{syncImport}
\EM{taxSelectable}{taxAddSubTab,taxAddToMD,taxUpdFromMD}
\EM{trashBuildPath}{trashMulti}
\EM{outPageSel}{linkChilds}
\EM{portfolioCourses}{portfolioRender}
\EM{scormTracking}{scormGetTracking,lpCollPossible}
\EM{sessMatDb}{sessMatTypes}
\EM{crsObjMat}{crsObjMatAssign}
\EM{crsObjQst}{crsObjFinal,crsObjSelf}
\EM{repUtilRemove}{trashRemove,empTalkDel,orgUnitConfDel}
\EM{chapterList}{helpChapters,exportIDTable}
\EM{restoreSub}{restoreUnbound}
\EM{pasteObj}{orgUnitPaste}
\EM{cloneNodes}{performPaste}
\EM{repoSelRender}{repoSelInsert,repoSelFilter}
\EM{coGUIConfDel}{lmObjConfDel}
\EM{sessOverGather}{sessOverCons}
\EM{tagSubTree}{tagRender,tagImport}
\EM{pcInsAfter}{pcNewAfter}
\EM{pcInsBefore}{pcNewBefore}
\EM{initialSubitems}{contSubItems}
\EM{aggChild}{newsForRef}
\EM{subTreeFiltered}{classSubItems}
\EM{pcInitEdit}{pcSaveProps,pcCreateFile,pcNewFile,pcEditProps,pcSelectFile}
\EM{pcVerValid}{pcVerInit}
\EM{spgSetProgress}{spgAppEvent}
\EM{treeComp}{treeRender}
\EM{wsFolderItems}{wsFolderCons}
\EM{wsContentItems}{wsContentRender}
\EM{xmlSubitems}{xmlWrite}
\EM{coShowExport}{coSaveExport}
\EM{structDelRec}{structDelete}
\EM{skillSaveOrder}{skillInsertClip}
\EM{collectRecurse}{collectRun}
\EM{checksumCalc}{checksumRun}
\EM{noteGetList}{noteCancelDel,noteExport,noteSortAsc,noteSortDesc,noteGetNotes,noteAddForm,noteCancelAdd,noteCancelUpd,noteEditForm}
\EM{noteWidget}{noteUpdWidget}
\EM{commentList}{assQComments}
\EM{initRenderer}{byTypeRender,singleType,simpleRender}
\EM{timingsItems}{crsPrepare,calFilter}
\EM{itemMgrInit}{itemMgrCons}
\EM{addContainerInfo}{sessCollect,addCommon}
\EM{inheritedSettings}{loadEff}
\EM{selfOrParent}{hasAutoRating}
\EM{repoSearchFill}{orgUnitIndex,skillProfUsers,surveyAppraisees,testAddSearch,roleUserAssign,blogContrib,bookingRender,exMembers,exSubTeam,forumMods,iaView,lsoShowPart,memShowPart}
\EM{evPartRead}{evPartCons}
\EM{sessModify}{sessShowJoin}
\EM{spgRepoSearch}{spgMembersInit}
\EM{surveyNotif}{surveyReminder,surveyTutor}
\EM{sessInitCont}{sessGetCont}
\EM{rolePermFilter}{rolePermCons}
\EM{blogSubTabs}{blogExec}
\EM{lmNavDropdown}{lmNavRender}
\EM{lmDetermine}{lmContRender}
\EM{createProps}{fileDoCreate}
\EM{createSettings}{forumCreate}
\EM{newsInitSettings}{newsSaveSettings,newsEditSettings}
\EM{newsAddSettings}{contNewsInit}
\EM{newsEditForm}{newsTLEditModal,newsTLSave,newsTLUpdate}
\EM{surveyDetails}{surveyValidate}
\EM{syncImport}{syncCons}
\EM{taxAddToMD}{taxInitForm}
\EM{lpCollPossible}{lpCollTable}
\EM{sessMatTypes}{sessMatInit}
\EM{crsObjFinal}{crsUpdSelfLim,crsUpdFinal,crsUpdSelf}
\EM{crsObjSelf}{crsUpdSelf,crsUpdMat}
\EM{helpChapters}{helpCons}
\EM{restoreUnbound}{validate}
\EM{orgUnitPaste}{orgUnitExec}
\EM{orgUnitConfDel}{orgUnitExec}
\EM{performPaste}{orgUnitExec,lsoExec}
\EM{newsForRef}{newsGetTable}
\EM{contSubItems}{empPendingSeries}
\EM{pcCreateFile}{pcInsertNew}
\EM{pcNewFile}{pcInsertNew}
\EM{pcSelectFile}{pcInsert}
\EM{collectDel}{trashShowDel}
\EM{pcVerInit}{pcVerEdit,pcVerInsert,pcVerUpdate}
\EM{treeRender}{treeGetHTML}
\EM{crsPrepare}{crsCreate,crsDelete,crsUpdate}
\EM{addCommon}{consultCollect,grpCollect,exCollect,crsCollect}
\EM{loadEff}{sortRead}
\EM{hasAutoRating}{handleAutoRating}
\EM{surveyAppraisees}{surveyMaint}
\EM{testAddSearch}{testShowCmd}
\EM{blogContrib}{blogRemove,blogAddContrib,blogAddUserAuto}
\EM{bookingRender}{bookingAddUser,bookingApply}
\EM{exMembers}{exSetDeadline,exWaiting,exApply,exReset,exAddUser}
\EM{exSubTeam}{exSubTeamAdd}
\EM{iaView}{iaAdded}
\EM{memShowPart}{memPart}
\EM{sessShowJoin}{sessShowJoinCal}
\EM{spgMembersInit}{spgMembersView}
\EM{surveyTutor}{surveyFinish}
\EM{sessGetCont}{sessMaterials}
\EM{sessInitAtt}{sessPrintAtt,sessAttList}
\EM{lmNavRender}{lmNavTop,lmNavBottom}
\EM{newsEditSettings}{pdChangeFeed}
\EM{contNewsInit}{contNewsSave,contNewsShow}
\EM{newsTLEditModal}{newsTLRenderEdit}
\EM{taxUpdFromMD}{taxSave}
\EM{taxInitForm}{taxSave,taxShow,taxExec}
\EM{sessMatInit}{sessMatCons}
\EM{newsGetTable}{newsEditNews}
\EM{empPendingSeries}{empPendingDates,empUpdSeries}
\EM{pcInsertNew}{pcCreate}
\EM{pcInsert}{pcCreate}
\EM{pcVerEdit}{pcVerUpdate}
\EM{pcVerInsert}{pcVerCreate}
\EM{blogAddContrib}{blogAddUserAuto}
\EM{sortRead}{sortCons}
\EM{handleAutoRating}{putInTree}
\EM{testShowCmd}{testExport,testExecTable}
\EM{bookingApply}{bookingReset,bookingApplyPart}
\EM{memPart}{memPartReset,lsoMembers,memGetMembers,memPartApply}
\EM{newsTLRenderEdit}{newsTLGetHTML}
\EM{newsEditNews}{newsCancelUpd,newsConfirmDel,newsDeleteItems,newsCancelUpdItem,newsCancelSave}
\EM{empPendingDates}{empEditSeries}
\EM{pcVerCreate}{pcVerCreateVer}
\EM{putInTree}{obj2PutTree,objGUIPutTree,soapAddRef,webdav,remoteCreate}
\EM{memGetMembers}{memConfirmDel,memRefuseSubs,memAssignSubs,memAssignWait,memRefuseList,memInitAtt,sessMemDel,sessMemAtt,memDelete,crsMemAssign,crsMemUpd,crsMemPrint,grpMemAssign,grpMemUpd,memExec,memEditPart,memUpdPart,memParseSub,memPrintOutput,memPrintFor,crsMemDelLinked}
\EM{newsTLGetHTML}{newsTLShow}
\EM{empUpdSeries}{empExecSeries}
\EM{empEditSeries}{empExecSeries}
\EM{obj2PutTree}{exVerSave,itemGroupSave,ltiSaveObj,ltiCreateNew,ltiVerSave,scormVerSave,testVerSave,webResSaveObj,biblSaveObj,cmiSave,cmiVerSave,crsVerSave}
\EM{objGUIPutTree}{objGUISaveObj,objGUIImport,sahsImport,surveyImport,sqpImport,contRefSave,empTalkSeriesSave,glossarySave,fblmCreate}
\EM{soapAddRef}{soapXML}
\EM{remoteCreate}{remoteHandleUpd}
\EM{memInitAtt}{memPrintOutput,memPrintFor,lsoPrintMembers,memPrintMembers}
\EM{memDelete}{crsMemDelLinked}
\EM{memEditPart}{memEditMember}
\EM{newsTLShow}{newsTLSave,newsTLUpdate}
\EM{empExecSeries}{empExec}
\EM{ltiSaveObj}{ltiCheckContent}
\EM{ltiCreateNew}{ltiSaveCustom}
\EM{webResSaveObj}{webResSave}
\EM{biblSaveObj}{biblSave}
\EM{objGUISaveObj}{sessSaveAssign}
\EM{fblmCreate}{fblmImport}
\EM{remoteHandleUpd}{remoteHandleCreate}
\EM{newsTLSave}{newsTLUpdNewsItem}
\EM{newsTLUpdate}{newsTLUpdNewsItem}
\end{pgfonlayer}
\end{tikzpicture}
\end{document}
